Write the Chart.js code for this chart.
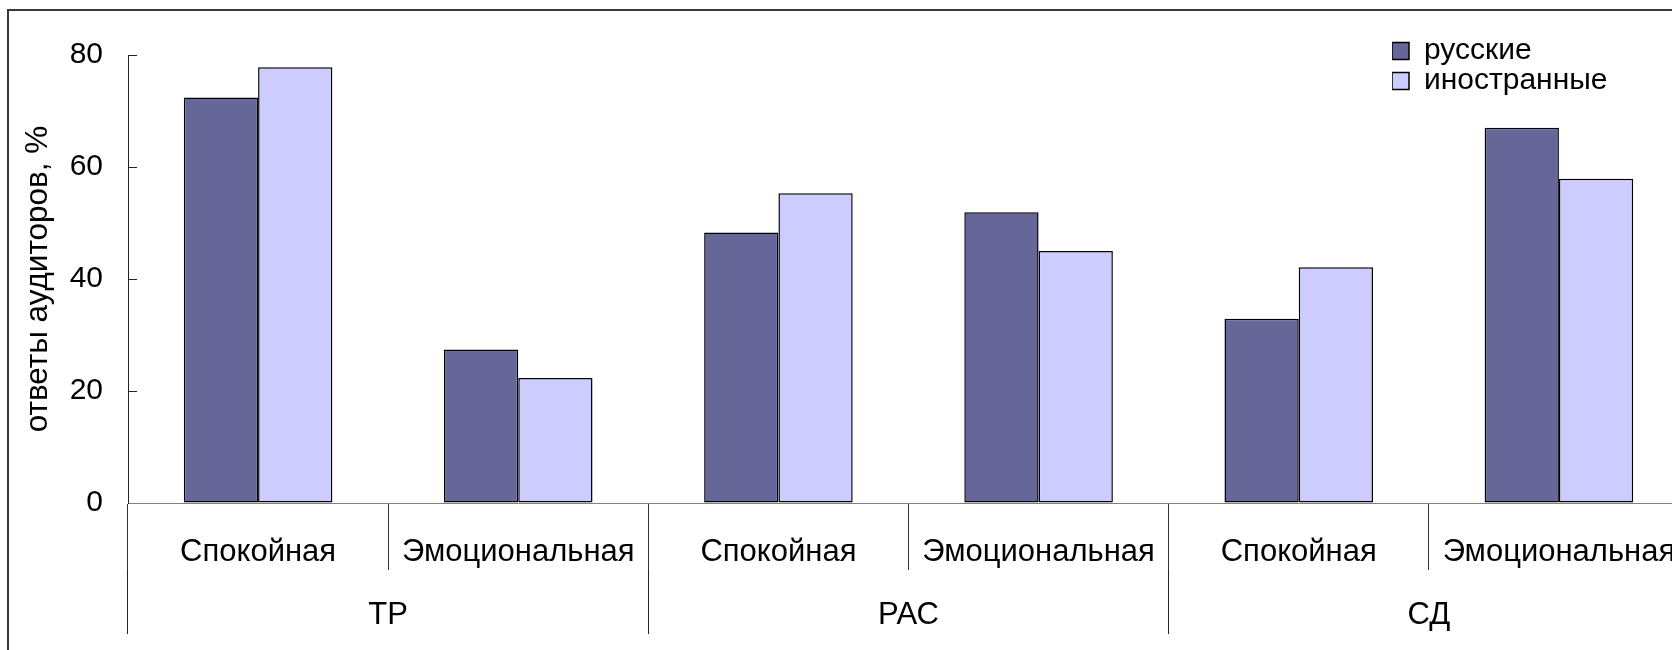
<!DOCTYPE html>
<html>
<head>
<meta charset="utf-8">
<script src="https://cdn.jsdelivr.net/npm/chart.js@4.4.1/dist/chart.umd.min.js"></script>
<style>
  html, body { margin: 0; padding: 0; background: #fff; }
  #wrap { position: relative; width: 1672px; height: 650px; overflow: hidden; background: #fff; }
  #frame { position: absolute; left: 7px; top: 9px; width: 2000px; height: 2000px;
           border-left: 2px solid #3a3a3a; border-top: 2px solid #3a3a3a; box-sizing: border-box; }
  #c { position: absolute; left: 0; top: 0; }
</style>
</head>
<body>
<div id="wrap">
  <div id="frame"></div>
  <canvas id="c" width="1700" height="650"></canvas>
</div>
<script>
// ---- data ----
const categories = ['Спокойная', 'Эмоциональная', 'Спокойная', 'Эмоциональная', 'Спокойная', 'Эмоциональная'];
const groups = ['ТР', 'РАС', 'СД'];
const seriesNames = ['русские', 'иностранные'];
const russian = [72.4, 27.4, 48.3, 51.9, 32.9, 67.0];
const foreign = [77.8, 22.3, 55.3, 45.0, 42.1, 57.9];
const yTicks = [0, 20, 40, 60, 80];
const yTitle = 'ответы аудиторов, %';

// ---- layout / style ----
const FONT = 'Liberation Sans, Arial, Helvetica, sans-serif';
const LEGEND_POS = { left: 1392, top: 36 };

Chart.defaults.font.family = FONT;
Chart.defaults.color = '#000';

const legendPlacer = {
  id: 'legendPlacer',
  afterLayout(chart) {
    const lg = chart.legend;
    if (!lg) return;
    const w = lg.width, h = lg.height;
    lg.left = LEGEND_POS.left; lg.top = LEGEND_POS.top;
    lg.right = lg.left + w; lg.bottom = lg.top + h;
  }
};

new Chart(document.getElementById('c'), {
  type: 'bar',
  data: {
    labels: categories,
    datasets: [
      { label: seriesNames[0], data: russian, backgroundColor: '#666699', borderColor: '#000', borderWidth: 1.5, borderSkipped: false },
      { label: seriesNames[1], data: foreign, backgroundColor: '#CCCCFF', borderColor: '#000', borderWidth: 1.5, borderSkipped: false }
    ]
  },
  options: {
    responsive: false,
    animation: false,
    events: [],
    categoryPercentage: 0.571,
    barPercentage: 1.0,
    layout: { padding: { top: 55, right: 11, bottom: 16, left: 0 } },
    plugins: {
      tooltip: { enabled: false },
      legend: {
        position: 'chartArea',
        align: 'start',
        labels: {
          font: { size: 30, family: FONT },
          color: '#000',
          boxWidth: 17,
          boxHeight: 17,
          padding: 0
        }
      }
    },
    scales: {
      x: {
        type: 'category',
        position: 'bottom',
        weight: 0,
        offset: true,
        border: { display: true, color: '#808080', width: 1 },
        grid: { display: true, offset: true, drawOnChartArea: false, drawTicks: true, tickLength: 67, color: '#333', lineWidth: 1 },
        ticks: { font: { size: 31, family: FONT }, color: '#000', padding: -36, maxRotation: 0, minRotation: 0, autoSkip: false },
        afterFit(s) { s.height = 67; }
      },
      x2: {
        type: 'category',
        labels: groups,
        position: 'bottom',
        weight: 1,
        offset: true,
        border: { display: false },
        grid: { display: true, offset: true, drawOnChartArea: false, drawTicks: true, tickLength: 64, color: '#222', lineWidth: 1 },
        ticks: { font: { size: 31, family: FONT }, color: '#000', padding: -37, maxRotation: 0, minRotation: 0, autoSkip: false },
        afterFit(s) { s.height = 64; }
      },
      y: {
        position: 'left',
        min: yTicks[0],
        max: yTicks[yTicks.length - 1],
        afterBuildTicks(s) { s.ticks = yTicks.map(v => ({ value: v })); },
        border: { display: true, color: '#222', width: 1 },
        grid: { display: true, drawOnChartArea: false, drawTicks: true, tickLength: -9, color: '#222', lineWidth: 1 },
        ticks: { font: { size: 30, family: FONT }, color: '#000', padding: 34 },
        title: { display: true, text: yTitle, font: { size: 31.5, family: FONT }, color: '#000', padding: { top: 19, bottom: 0 } },
        afterFit(s) { s.width = 128; }
      }
    }
  },
  plugins: [legendPlacer]
});
</script>
</body>
</html>
